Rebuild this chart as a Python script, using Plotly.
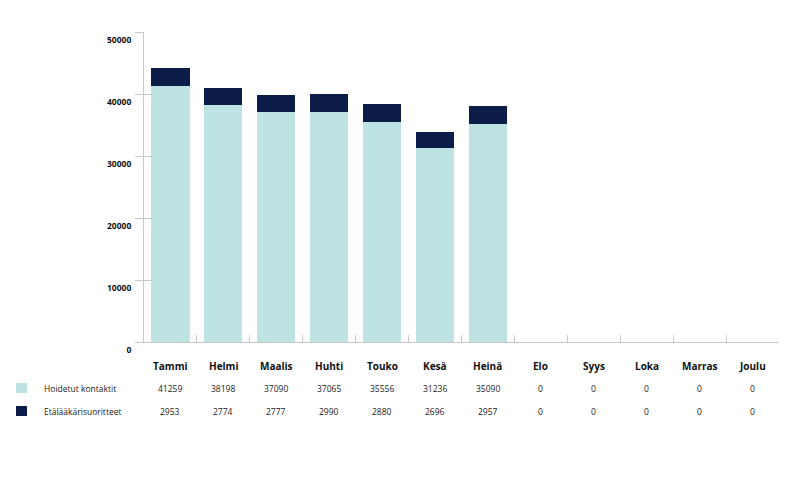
import plotly.graph_objects as go

months = ["Tammi", "Helmi", "Maalis", "Huhti", "Touko", "Kesä", "Heinä",
          "Elo", "Syys", "Loka", "Marras", "Joulu"]
hoidetut = [41259, 38198, 37090, 37065, 35556, 31236, 35090, 0, 0, 0, 0, 0]
etalaakari = [2953, 2774, 2777, 2990, 2880, 2696, 2957, 0, 0, 0, 0, 0]
series_names = ["Hoidetut kontaktit", "Etälääkärisuoritteet"]
colors = ["#BDE3E3", "#0B1C48"]
yticks = [0, 10000, 20000, 30000, 40000, 50000]

W, H = 795, 477
L, R, T, B = 144, 16, 32, 135
pw, ph = W - L - R, H - T - B

def py(p):  # pixel y -> paper
    return (H - B - p) / ph

def px(p):  # pixel x -> paper
    return (p - L) / pw

fig = go.Figure()
for name, vals, c in zip(series_names, [hoidetut, etalaakari], colors):
    fig.add_trace(go.Bar(x=months, y=vals, name=name, marker=dict(color=c, line=dict(width=0)),
                         showlegend=False))
# invisible helper trace so the secondary (inner tick) y-axis is drawn
fig.add_trace(go.Scatter(x=months, y=hoidetut, yaxis="y2", mode="markers",
                         marker=dict(opacity=0, size=1), hoverinfo="skip", showlegend=False))

font_family = "Open Sans"
annotations = []
for m in months:
    annotations.append(dict(x=m, xref="x", y=py(366), yref="paper", text=f"<b>{m}</b>",
                            showarrow=False, font=dict(size=10, color="#111", family=font_family),
                            xanchor="center", yanchor="middle"))
for row_y, vals in zip([388, 411], [hoidetut, etalaakari]):
    for m, v in zip(months, vals):
        annotations.append(dict(x=m, xref="x", y=py(row_y), yref="paper", text=str(v),
                                showarrow=False, font=dict(size=8.5, color="#222", family=font_family),
                                xanchor="center", yanchor="middle"))
shapes = []
for row_y, name, c in zip([388, 411], series_names, colors):
    shapes.append(dict(type="rect", xref="paper", yref="paper",
                       x0=px(16), x1=px(27), y0=py(row_y + 5), y1=py(row_y - 5),
                       fillcolor=c, line=dict(width=0)))
    annotations.append(dict(x=px(42), xref="paper", y=py(row_y), yref="paper", text=name,
                            showarrow=False, font=dict(size=8.5, color="#222", family=font_family),
                            xanchor="left", yanchor="middle"))

fig.update_layout(
    width=W, height=H,
    margin=dict(l=L, r=R, t=T, b=B, autoexpand=False),
    barmode="stack", bargap=0.28,
    plot_bgcolor="white", paper_bgcolor="white",
    font=dict(family=font_family),
    annotations=annotations, shapes=shapes,
    xaxis=dict(range=[-0.5, len(months) - 0.5], showticklabels=False, showgrid=False,
               showline=True, linecolor="#c8c8c8",
               linewidth=1, ticks="inside", tickson="boundaries", ticklen=7,
               tickcolor="#c8c8c8", tickwidth=1, zeroline=False, automargin=False),
    yaxis=dict(range=[0, 50000], tickvals=yticks, ticktext=[f"<b>{v}</b>" for v in yticks],
               showgrid=False, showline=True, linecolor="#c8c8c8", linewidth=1,
               ticks="outside", ticklen=8, tickcolor="#c8c8c8", zeroline=False,
               tickfont=dict(size=8.5, color="#111", family=font_family),
               ticklabelshift=8, ticklabelstandoff=2, automargin=False),
    yaxis2=dict(overlaying="y", matches="y", anchor="x", side="left", tickvals=yticks,
                showticklabels=False, showgrid=False, showline=False, zeroline=False,
                ticks="inside", ticklen=8, tickcolor="#c8c8c8", automargin=False),
)

fig.write_html("out.html", config={"displayModeBar": False},
               post_script="document.body.style.margin='0';document.body.style.overflow='hidden';")
